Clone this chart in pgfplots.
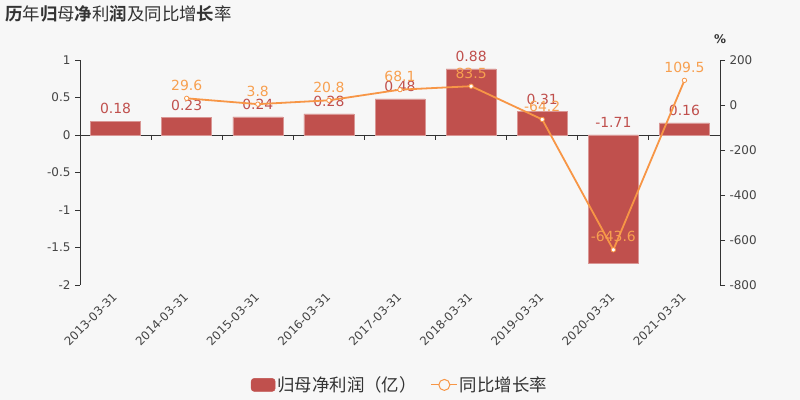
\documentclass[border=0pt]{standalone}
\usepackage{pgfplots}
\pgfplotsset{compat=1.18}
\usepackage{fontspec}
\setmainfont{DejaVu Sans}
\newfontfamily\cjk{Noto Sans CJK SC}
\newfontfamily\cjkb{Noto Sans CJK SC Bold}
\definecolor{bg}{HTML}{F7F7F7}
\definecolor{barc}{HTML}{C0504D}
\definecolor{linec}{HTML}{F79646}
\definecolor{linelab}{HTML}{F7A050}
\definecolor{axc}{HTML}{333333}
\definecolor{tickc}{HTML}{444444}
\begin{document}
\begin{tikzpicture}
\fill[bg] (0bp,0bp) rectangle (800bp,400bp);
\useasboundingbox (0bp,0bp) rectangle (800bp,400bp);
\node[anchor=west, text=axc, inner sep=0pt] at (5bp,386bp) {\fontsize{17.5}{20}\selectfont{\cjkb 历}{\cjk 年}{\cjkb 归}{\cjk 母}{\cjkb 净}{\cjk 利}{\cjkb 润}{\cjk 及同比增}{\cjkb 长}{\cjk 率}};
% bar axis
\begin{axis}[
  at={(80bp,115bp)}, anchor=south west,
  scale only axis, width=640bp, height=225bp,
  xmin=-0.5, xmax=8.5, ymin=-2, ymax=1,
  axis x line*=bottom,
  x axis line style={draw=none},
  xtick={0,1,2,3,4,5,6,7,8},
  xticklabels={2013-03-31,2014-03-31,2015-03-31,2016-03-31,2017-03-31,2018-03-31,2019-03-31,2020-03-31,2021-03-31},
  xtick style={draw=none},
  xticklabel style={rotate=45, anchor=east, text=tickc, font=\fontsize{11.8}{13}\selectfont, inner sep=1bp, yshift=-3bp, xshift=-3bp},
  axis y line*=left,
  y axis line style={axc, line width=0.8bp, -},
  ytick={-2,-1.5,-1,-0.5,0,0.5,1},
  yticklabels={-2,-1.5,-1,-0.5,0,0.5,1},
  ytick style={axc, line width=0.8bp},
  tick align=outside, major tick length=5bp,
  yticklabel style={text=tickc, font=\fontsize{12}{14}\selectfont, xshift=-1bp},
  clip=false,
]
\draw[axc, line width=0.8bp] (axis cs:-0.5,0) -- (axis cs:8.5,0);
\pgfplotsinvokeforeach{0.5,1.5,2.5,3.5,4.5,5.5,6.5,7.5}{\draw[axc, line width=0.8bp] (axis cs:#1,0) -- ([yshift=-5bp]axis cs:#1,0);}
\addplot[ybar, bar width=50bp, fill=barc, draw=barc!60!white, line width=0.5bp, bar shift=0pt]
  coordinates {(0,0.18) (1,0.23) (2,0.24) (3,0.28) (4,0.48) (5,0.88) (6,0.31) (7,-1.71) (8,0.16)};
\addplot[draw=none, mark=none, point meta=explicit symbolic,
  nodes near coords, nodes near coords align={above},
  every node near coord/.append style={text=barc, font=\fontsize{14}{16}\selectfont, yshift=4bp}]
  coordinates {(0,0.18)[0.18] (1,0.23)[0.23] (2,0.24)[0.24] (3,0.28)[0.28] (4,0.48)[0.48] (5,0.88)[0.88] (6,0.31)[0.31] (7,0)[-1.71] (8,0.16)[0.16]};
\end{axis}
% line axis
\begin{axis}[
  at={(80bp,115bp)}, anchor=south west,
  scale only axis, width=640bp, height=225bp,
  xmin=-0.5, xmax=8.5, ymin=-800, ymax=200,
  axis x line=none,
  axis y line*=right,
  y axis line style={axc, line width=0.8bp, -},
  ytick={-800,-600,-400,-200,0,200},
  yticklabels={-800,-600,-400,-200,0,200},
  ytick style={axc, line width=0.8bp},
  tick align=outside, major tick length=5bp,
  yticklabel style={text=tickc, font=\fontsize{12}{14}\selectfont, xshift=1bp},
  clip=false,
  legend style={at={(0.5,-0.444)}, anchor=center, draw=none, fill=none,
    font=\fontsize{17.5}{19}\selectfont, text=axc, inner xsep=2bp,
    /tikz/every even column/.append style={column sep=12bp}},
  legend columns=2,
]
\node[text=axc, font=\fontsize{12}{14}\selectfont\bfseries] at ([yshift=21bp]rel axis cs:1,1) {\%};
\addlegendimage{legend image code/.code={\fill[barc, rounded corners=3bp] (0bp,-6.5bp) rectangle (24bp,6.5bp);}}
\addlegendentry{\cjk 归母净利润（亿）}
\addplot[linec, line width=1.8bp, mark=*, mark size=2.2bp, mark options={fill=white, draw=linec, line width=0.8bp},
  point meta=explicit symbolic, nodes near coords, nodes near coords align={above},
  every node near coord/.append style={text=linelab, font=\fontsize{14}{16}\selectfont, yshift=4bp},
  legend image code/.code={\draw[linec, line width=1bp] (0bp,0bp) -- (26bp,0bp); \draw[linec, fill=bg, line width=1bp] (13bp,0bp) circle (5.5bp);}]
  coordinates {(1,29.6)[29.6] (2,3.8)[3.8] (3,20.8)[20.8] (4,68.1)[68.1] (5,83.5)[83.5] (6,-64.2)[-64.2] (7,-643.6)[-643.6] (8,109.5)[109.5]};
\addlegendentry{\cjk 同比增长率}
\end{axis}
\end{tikzpicture}
\end{document}
